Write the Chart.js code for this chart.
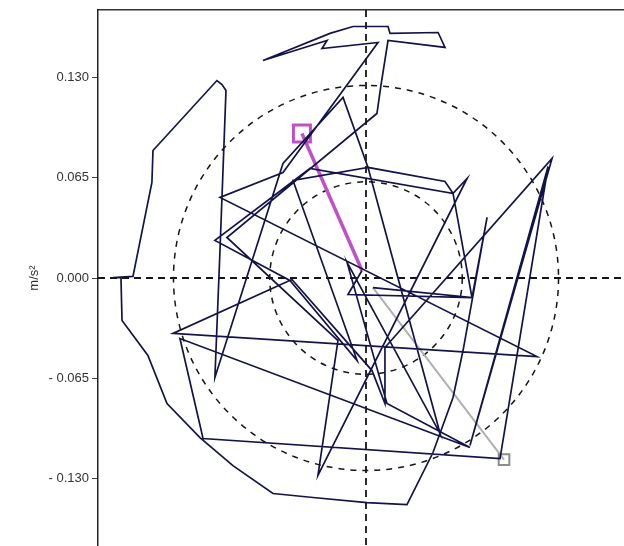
<!DOCTYPE html>
<html>
<head>
<meta charset="utf-8">
<script src="https://cdn.jsdelivr.net/npm/chart.js@4.4.1/dist/chart.umd.min.js"></script>
<style>
html, body { margin: 0; padding: 0; background: #fff; overflow: hidden; }
#wrap { width: 624px; height: 546px; position: relative; }
</style>
</head>
<body>
<div id="wrap"><canvas id="c" width="624" height="546"></canvas></div>
<script>
// Horizontal acceleration trace (x and y components, m/s²)
const traceX = [-0.0026, -0.0117, 0.0688, 0.0786, 0.0630, 0.0565, 0.0435, 0.0266, 0.0006, -0.0344,
  -0.0604, -0.0864, -0.1078, -0.1292, -0.1416, -0.1584, -0.1591, -0.1643, -0.1513, -0.1390,
  -0.1383, -0.0968, -0.0935, -0.0909, -0.0948, -0.0981, -0.0539, -0.0149, 0.0013, 0.0513,
  0.0565, 0.0656, -0.0312, -0.0182, -0.0903, 0.0071, 0.0097, 0.0143, 0.0513, 0.0468,
  0.0156, 0.0143, -0.0084, -0.0234, -0.0669, -0.0253, -0.0286, 0.0078, -0.0539, -0.0948,
  0.1110, -0.1253, -0.0481, 0.0039, 0.0123, 0.0123, 0.1208, 0.0675, 0.1182, 0.0870,
  -0.1058, -0.1208, 0.0675, 0.0136, -0.0123, 0.0481, 0.0013, -0.0474, -0.0058, -0.0494,
  -0.0981, -0.0364, 0.0565, 0.0688, 0.0045];
const traceY = [0.0049, -0.0107, -0.0127, 0.0393, -0.0471, -0.0776, -0.1133, -0.1471, -0.1458, -0.1425,
  -0.1399, -0.1218, -0.1036, -0.0815, -0.0503, -0.0276, 0.0003, 0.0003, 0.0010, 0.0620,
  0.0828, 0.1282, 0.1256, 0.1218, 0.0179, -0.0646, 0.0744, 0.1172, 0.0718, 0.0627,
  0.0549, 0.0646, -0.1282, -0.0406, 0.0263, 0.1068, 0.1250, 0.1542, 0.1497, 0.1594,
  0.1588, 0.1633, 0.1633, 0.1588, 0.1412, 0.1542, 0.1490, 0.1529, 0.0685, 0.0523,
  -0.0510, -0.0360, -0.0010, -0.0601, -0.0815, -0.0451, 0.0776, -0.1088, 0.0724, -0.1172,
  -0.1042, -0.0393, -0.1101, -0.0815, 0.0101, -0.1010, 0.0718, 0.0633, -0.0536, -0.0016,
  0.0244, 0.0711, 0.0549, -0.0127, -0.0062];

// Opening segment (magenta) and closing segment (grey)
const headX = [-0.0416, -0.0026];
const headY = [0.0938, 0.0049];
const tailX = [0.0045, 0.0896];
const tailY = [-0.0062, -0.1179];

const yTickValues = [0.130, 0.065, 0, -0.065, -0.130];
const ringRadii = [0.0625, 0.125];
const xMin = -0.174, xMax = 0.1675, yMin = -0.174, yMax = 0.174;

const toPts = (xs, ys) => xs.map((v, i) => ({ x: v, y: ys[i] }));

const fmtTick = v => (v < 0 ? '- ' + Math.abs(v).toFixed(3) : Math.abs(v).toFixed(3));

// Dashed reference rings and crosshair through the origin
const guides = {
  id: 'guides',
  beforeDatasetsDraw(chart) {
    const { ctx, chartArea: a, scales: { x, y } } = chart;
    const cx = x.getPixelForValue(0), cy = y.getPixelForValue(0);
    ctx.save();
    ctx.beginPath();
    ctx.rect(a.left, a.top, a.right - a.left, a.bottom - a.top);
    ctx.clip();
    ctx.strokeStyle = '#151515';
    ctx.lineWidth = 1.5;
    ctx.setLineDash([6, 6]);
    ringRadii.forEach(r => {
      const rp = x.getPixelForValue(r) - cx;
      ctx.beginPath();
      ctx.arc(cx, cy, rp, 0, Math.PI * 2);
      ctx.stroke();
    });
    ctx.setLineDash([7, 5]);
    ctx.lineWidth = 1.8;
    ctx.beginPath();
    ctx.moveTo(a.left, cy); ctx.lineTo(a.right, cy);
    ctx.moveTo(cx, a.top); ctx.lineTo(cx, a.bottom);
    ctx.stroke();
    ctx.restore();
  }
};

new Chart(document.getElementById('c'), {
  type: 'scatter',
  data: {
    datasets: [
      {
        data: toPts(traceX, traceY),
        showLine: true,
        borderColor: '#13134a',
        borderWidth: 1.7,
        pointRadius: 0,
        tension: 0
      },
      {
        data: toPts(tailX, tailY),
        showLine: true,
        borderColor: '#b0b0b0',
        borderWidth: 2,
        pointRadius: [0, 7.5],
        pointStyle: 'rect',
        pointBorderColor: '#8c8c8c',
        pointBorderWidth: 2,
        pointBackgroundColor: 'rgba(0,0,0,0)',
        tension: 0
      },
      {
        data: toPts(headX, headY),
        showLine: true,
        borderColor: '#c050c8',
        borderWidth: 3.5,
        pointRadius: [12, 0],
        pointStyle: 'rect',
        pointBorderColor: '#c050c8',
        pointBorderWidth: 3,
        pointBackgroundColor: 'rgba(0,0,0,0)',
        tension: 0
      }
    ]
  },
  options: {
    responsive: false,
    animation: false,
    devicePixelRatio: 1,
    layout: { padding: 0, autoPadding: false },
    plugins: { legend: { display: false }, tooltip: { enabled: false } },
    scales: {
      x: {
        type: 'linear',
        position: 'top',
        min: xMin,
        max: xMax,
        ticks: { display: false },
        grid: { display: false },
        border: { display: true, color: '#333', width: 1.5 },
        afterFit(s) { s.height = 10; s.paddingLeft = 0; s.paddingRight = 0; }
      },
      y: {
        type: 'linear',
        position: 'left',
        min: yMin,
        max: yMax,
        afterBuildTicks(s) { s.ticks = yTickValues.map(v => ({ value: v })); },
        ticks: {
          callback: v => fmtTick(v),
          font: { family: 'Liberation Sans', size: 13 },
          color: '#333',
          padding: 3
        },
        grid: { drawOnChartArea: false, drawTicks: true, tickLength: 6, color: '#444' },
        border: { display: true, color: '#222', width: 1.5 },
        title: {
          display: true,
          text: 'm/s²',
          font: { family: 'Liberation Sans', size: 13 },
          color: '#333',
          padding: { top: 27, bottom: 0 }
        },
        afterFit(s) { s.width = 98; s.paddingTop = 0; s.paddingBottom = 0; }
      }
    }
  },
  plugins: [guides]
});
</script>
</body>
</html>
